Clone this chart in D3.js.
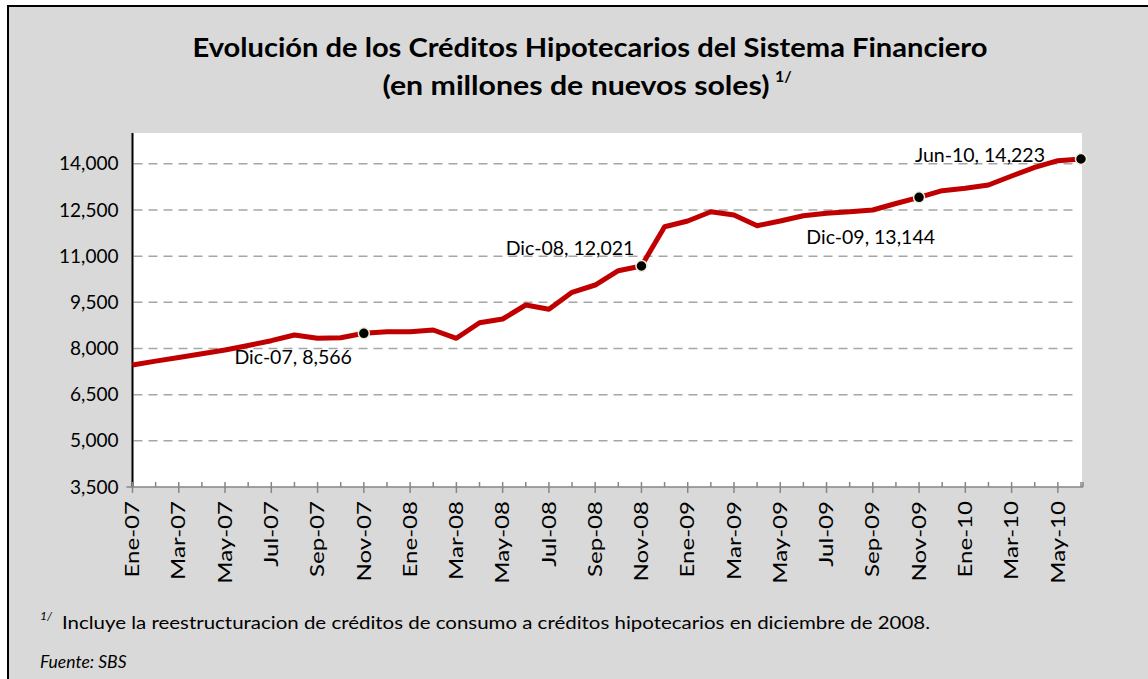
<!DOCTYPE html>
<html><head><meta charset="utf-8">
<script src="https://cdn.jsdelivr.net/npm/d3@7"></script>
<style>
body{margin:0;background:#fff;overflow:hidden;}
text{font-family:Lato,"Open Sans",sans-serif;fill:#000;}
</style>
</head><body>
<svg id="c" width="1148" height="679"></svg>
<script>
// ---- data ----
const months = ["Ene-07","Feb-07","Mar-07","Abr-07","May-07","Jun-07","Jul-07","Ago-07","Sep-07","Oct-07","Nov-07","Dic-07",
  "Ene-08","Feb-08","Mar-08","Abr-08","May-08","Jun-08","Jul-08","Ago-08","Sep-08","Oct-08","Nov-08","Dic-08",
  "Ene-09","Feb-09","Mar-09","Abr-09","May-09","Jun-09","Jul-09","Ago-09","Sep-09","Oct-09","Nov-09","Dic-09",
  "Ene-10","Feb-10","Mar-10","Abr-10","May-10","Jun-10"];
const values = [7463,7590,7707,7830,7951,8097,8253,8438,8331,8350,8493,8545,
  8545,8600,8331,8837,8958,9412,9273,9825,10062,10527,10679,11956,
  12141,12443,12336,11988,12141,12313,12391,12443,12499,12710,12911,13126,
  13204,13311,13603,13886,14100,14155];
const yTicks = [3500,5000,6500,8000,9500,11000,12500,14000];
const markedIdx = [10,22,34,41];
const markedText = ["Dic-07, 8,566","Dic-08, 12,021","Dic-09, 13,144","Jun-10, 14,223"];
const titleLines = ["Evolución de los Créditos Hipotecarios del Sistema Financiero","(en millones de nuevos soles)"];
const footnote = "Incluye la reestructuracion de créditos de consumo a  créditos hipotecarios en diciembre de 2008.";
const source = "Fuente: SBS";

// ---- layout ----
const svg = d3.select("#c");
const L = 132.5, R = 1081, T = 133, B = 487;
svg.append("rect").attr("x",8).attr("y",6).attr("width",1200).attr("height",700)
  .attr("fill","#d9d9d9").attr("stroke","#000").attr("stroke-width",2);
svg.append("rect").attr("x",L).attr("y",T).attr("width",1082-L).attr("height",B-T).attr("fill","#fff");

const x = d3.scaleLinear().domain([0, months.length-1]).range([L, R]);
const y = d3.scaleLinear().domain([3500, 15000]).range([B, T]);

// grid
svg.append("g").selectAll("line").data(yTicks.filter(v=>v>3500)).join("line")
  .attr("x1",L+1).attr("x2",1076).attr("y1",d=>y(d)).attr("y2",d=>y(d))
  .attr("stroke","#a6a6a6").attr("stroke-width",1.5).attr("stroke-dasharray","9,6");

// y axis
const yAxis = d3.axisLeft(y).tickValues(yTicks).tickSize(0).tickPadding(14)
  .tickFormat(d3.format(","));
const gy = svg.append("g").attr("transform",`translate(${L},0)`).call(yAxis);
gy.select(".domain").remove();
gy.selectAll("text").attr("font-size",19).attr("font-family","Lato").attr("fill","#000");
svg.append("line").attr("x1",L).attr("x2",L).attr("y1",T).attr("y2",B).attr("stroke","#000").attr("stroke-width",2);
svg.append("line").attr("x1",L-6).attr("x2",L).attr("y1",B).attr("y2",B).attr("stroke","#868686").attr("stroke-width",1.5);

// x axis
svg.append("line").attr("x1",L).attr("x2",1083).attr("y1",B).attr("y2",B).attr("stroke","#868686").attr("stroke-width",1.5);
svg.append("line").attr("x1",1083).attr("x2",1083).attr("y1",B-5).attr("y2",B).attr("stroke","#868686").attr("stroke-width",1.5);
const idx = d3.range(months.length);
svg.append("g").selectAll("line").data(idx).join("line")
  .attr("x1",d=>x(d)).attr("x2",d=>x(d))
  .attr("y1",B-5).attr("y2",d=>d%2===0?B+6:B)
  .attr("stroke","#868686").attr("stroke-width",1.5);
svg.append("g").selectAll("text").data(idx.filter(d=>d%2===0)).join("text")
  .attr("transform",d=>`translate(${x(d)},${B+14}) rotate(-90) scale(1.3,1)`)
  .attr("text-anchor","end").attr("dy","0.36em").attr("font-size",18.5)
  .text(d=>months[d]);

// line
svg.append("path").datum(values)
  .attr("d", d3.line().x((d,i)=>x(i)).y(d=>y(d)))
  .attr("fill","none").attr("stroke","#c00000").attr("stroke-width",5).attr("stroke-linejoin","round");

// markers
const labelOff = [[-12,31],[-7,-11],[16,47],[-36,3]];
svg.append("g").selectAll("circle").data(markedIdx).join("circle")
  .attr("cx",d=>x(d)).attr("cy",d=>y(values[d])).attr("r",5.5)
  .attr("fill","#000").attr("stroke","#eeecd8").attr("stroke-width",1.5);
svg.append("g").selectAll("text").data(markedIdx).join("text")
  .attr("x",(d,k)=>x(d)+labelOff[k][0]).attr("y",(d,k)=>y(values[d])+labelOff[k][1])
  .attr("text-anchor","end").attr("font-size",19.5)
  .text((d,k)=>markedText[k]);

// titles
svg.append("text").attr("x",590).attr("y",57).attr("text-anchor","middle")
  .attr("font-size",26).attr("font-weight","bold").attr("textLength",795).attr("lengthAdjust","spacingAndGlyphs")
  .text(titleLines[0]);
svg.append("text").attr("x",576).attr("y",95).attr("text-anchor","middle")
  .attr("font-size",26).attr("font-weight","bold").attr("textLength",387).attr("lengthAdjust","spacingAndGlyphs")
  .text(titleLines[1]);
svg.append("text").attr("x",775).attr("y",82).attr("font-size",16).attr("font-weight","bold").text("1/");

// footnote
svg.append("text").attr("x",40).attr("y",620).attr("font-size",12).attr("font-style","italic").text("1/");
svg.append("text").attr("x",62).attr("y",629).attr("font-size",18).attr("textLength",868).attr("lengthAdjust","spacingAndGlyphs").text(footnote);
svg.append("text").attr("x",40).attr("y",668).attr("font-size",17.5).attr("font-style","italic").text(source);
</script>
</body></html>
